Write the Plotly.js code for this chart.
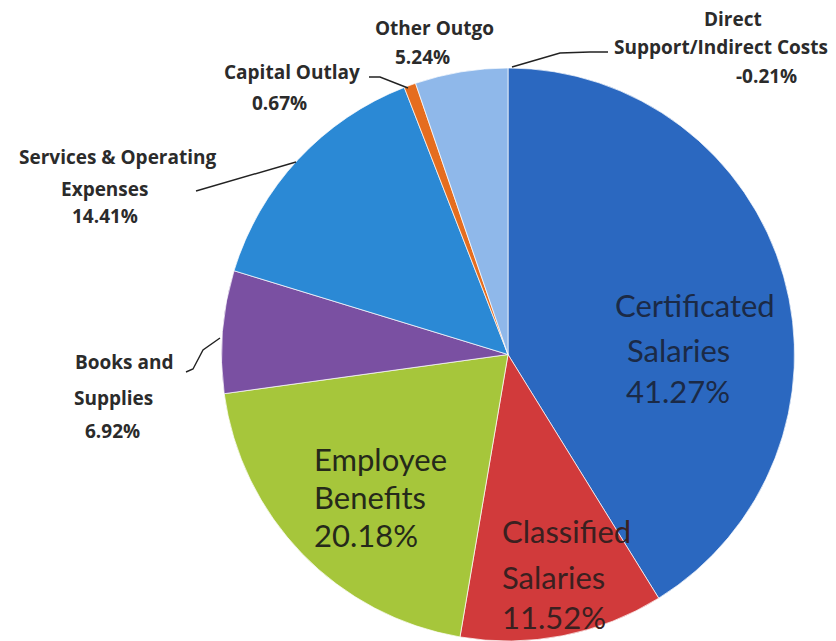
<!DOCTYPE html>
<html>
<head>
<meta charset="utf-8">
<script src="https://cdn.plot.ly/plotly-3.0.1.min.js"></script>
<style>html,body{margin:0;padding:0;background:#fff;}#chart{width:836px;height:641px;}</style>
</head>
<body>
<div id="chart"></div>
<script>
// Data
var categories = ["Certificated Salaries", "Classified Salaries", "Employee Benefits", "Books and Supplies", "Services & Operating Expenses", "Capital Outlay", "Other Outgo", "Direct Support/Indirect Costs"];
var percents = [41.27, 11.52, 20.18, 6.92, 14.41, 0.67, 5.24, -0.21];
var sliceColors = ["#2b68c0", "#d13a3b", "#a6c63b", "#7a50a2", "#2b89d5", "#e56d1f", "#8fb8ea", "#4a7ec8"];

// Only positive shares can be drawn as slices
var pieLabels = [], pieValues = [], pieColors = [];
for (var i = 0; i < categories.length; i++) {
  if (percents[i] > 0) {
    pieLabels.push(categories[i]);
    pieValues.push(percents[i]);
    pieColors.push(sliceColors[i]);
  }
}

var W = 836, H = 641;
function px(x) { return x / W; }
function py(y) { return 1 - y / H; }

var trace = {
  type: "pie",
  labels: pieLabels,
  values: pieValues,
  sort: false,
  direction: "clockwise",
  rotation: 0,
  textinfo: "none",
  hoverinfo: "label+percent",
  marker: { colors: pieColors, line: { color: "rgba(255,255,255,0.7)", width: 1 } },
  domain: { x: [221 / W, 795 / W], y: [0, 1 - 68 / H] },
  showlegend: false
};

function pct(i) { return (percents[i] < 0 ? "-" : "") + Math.abs(percents[i]).toFixed(2) + "%"; }

var annotations = [];
function addLine(text, x, y, size, color, bold, anchor, fam) {
  annotations.push({
    text: bold ? "<b>" + text + "</b>" : text,
    xref: "paper", yref: "paper",
    x: px(x), y: py(y),
    xanchor: anchor || "center", yanchor: "middle",
    showarrow: false,
    font: { family: fam || "Lato, 'Open Sans', sans-serif", size: size, color: color }
  });
}

// Inside labels
var inC = "#1b2a46";
var inS = 31;
addLine("Certificated", 695, 305, inS, inC, false);
addLine("Salaries", 678, 350, inS, inC, false);
addLine(pct(0), 678, 391, inS, inC, false);

addLine("Classified", 500, 531, inS, "#3a2020", false, "left");
addLine("Salaries", 500, 577, inS, "#3a2020", false, "left");
addLine(pct(1), 500, 617, inS, "#3a2020", false, "left");

addLine("Employee", 312, 459, inS, "#25291a", false, "left");
addLine("Benefits", 312, 497, inS, "#25291a", false, "left");
addLine(pct(2), 312, 535, inS, "#25291a", false, "left");

// Outside labels
var outC = "#2b2b2b";
var outS = 19;
var outF = "'Open Sans', Lato, sans-serif";
addLine("Services &amp; Operating", 117, 157, outS, outC, true, null, outF);
addLine("Expenses", 104, 189, outS, outC, true, null, outF);
addLine(pct(4), 105, 216, outS, outC, true, null, outF);

addLine("Books and", 124, 362, outS, outC, true, null, outF);
addLine("Supplies", 113, 398, outS, outC, true, null, outF);
addLine(pct(3), 112, 431, outS, outC, true, null, outF);

addLine("Capital Outlay", 292, 72, outS, outC, true, null, outF);
addLine(pct(5), 279, 103, outS, outC, true, null, outF);

addLine("Other Outgo", 434, 28, outS, outC, true, null, outF);
addLine(pct(6), 422, 57, outS, outC, true, null, outF);

addLine("Direct", 733, 19, outS, outC, true, null, outF);
addLine("Support/Indirect Costs", 721, 47, outS, outC, true, null, outF);
addLine(pct(7), 766, 76, outS, outC, true, null, outF);

function seg(pts) {
  var d = "M" + px(pts[0][0]) + "," + py(pts[0][1]);
  for (var k = 1; k < pts.length; k++) d += " L" + px(pts[k][0]) + "," + py(pts[k][1]);
  return { type: "path", xref: "paper", yref: "paper", path: d, line: { color: "#222", width: 1.4 } };
}
var shapes = [
  seg([[196, 191], [296, 162]]),
  seg([[186, 372], [193, 369], [203, 350], [220, 338]]),
  seg([[369, 77], [380, 77], [408, 88]]),
  seg([[608, 52], [590, 52], [560, 53], [512, 67]])
];

var layout = {
  width: W, height: H,
  margin: { l: 0, r: 0, t: 0, b: 0 },
  paper_bgcolor: "#ffffff",
  annotations: annotations,
  shapes: shapes,
  showlegend: false
};

Plotly.newPlot("chart", [trace], layout, { displayModeBar: false, staticPlot: true });
</script>
</body>
</html>
